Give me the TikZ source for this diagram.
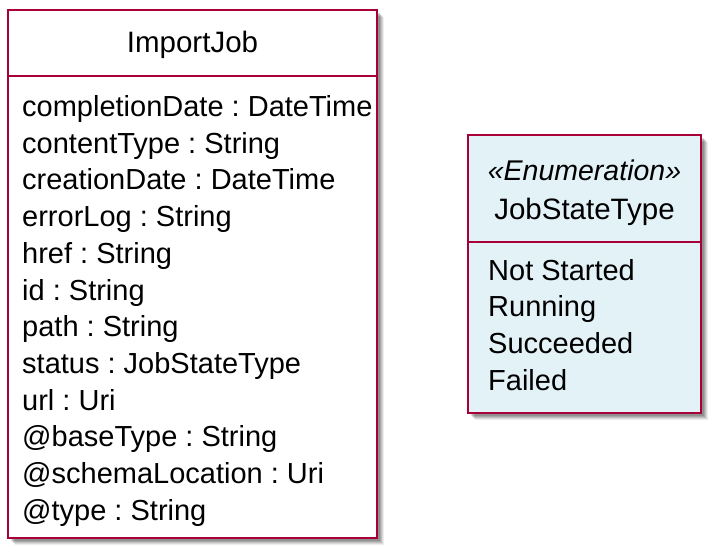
\documentclass[tikz,border=0pt]{standalone}
\usepackage{fontspec}
\setmainfont{Liberation Sans}
\frenchspacing
\definecolor{umlborder}{RGB}{168,0,54}
\definecolor{enumfill}{RGB}{227,242,247}
\tikzset{
  boxline/.style={draw=umlborder, line width=2.2pt},
  attr/.style={anchor=base west, inner sep=0pt, font=\fontsize{29}{34}\selectfont, text=black},
  titletext/.style={anchor=base, inner sep=0pt, font=\fontsize{29.5}{34}\selectfont, text=black},
}
\newcommand{\myshadow}[4]{%
  \foreach \s/\o in {7/0.07,6/0.09,5/0.11,4/0.13,3/0.13}{
    \fill[black, opacity=\o] ($(#1,#2)+(\s,\s)$) rectangle ($(#3,#4)+(\s,\s)$);
  }%
}
\usetikzlibrary{calc}
\begin{document}
\begin{tikzpicture}[x=1pt,y=-1pt]
\useasboundingbox (0,0) rectangle (709,545);
% ImportJob
\myshadow{8}{10}{377}{538}
\fill[white] (8,10) rectangle (377,538);
\draw[boxline] (8,10) rectangle (377,538);
\draw[boxline] (8,76) -- (377,76);
\node[titletext] (ijt) at (192.5,53) {ImportJob};
\foreach \t [count=\i from 0] in {completionDate : DateTime,contentType : String,creationDate : DateTime,errorLog : String,href : String,id : String,path : String,status : JobStateType,url : Uri,@baseType : String,@schemaLocation : Uri,@type : String}{
  \node[attr] (a\i) at (22,116.5+36.7*\i) {\t};
}
% JobStateType
\myshadow{468}{135}{701}{413}
\fill[enumfill] (468,135) rectangle (701,413);
\draw[boxline] (468,135) rectangle (701,413);
\draw[boxline] (468,242) -- (701,242);
\node[titletext, font=\fontsize{28.5}{34}\selectfont\itshape] (st) at (584.5,181) {«Enumeration»};
\node[titletext] (jst) at (584.5,220) {JobStateType};
\foreach \t [count=\i from 0] in {Not Started,Running,Succeeded,Failed}{
  \node[attr] (e\i) at (488,280+36.9*\i) {\t};
}
\end{tikzpicture}
\end{document}
